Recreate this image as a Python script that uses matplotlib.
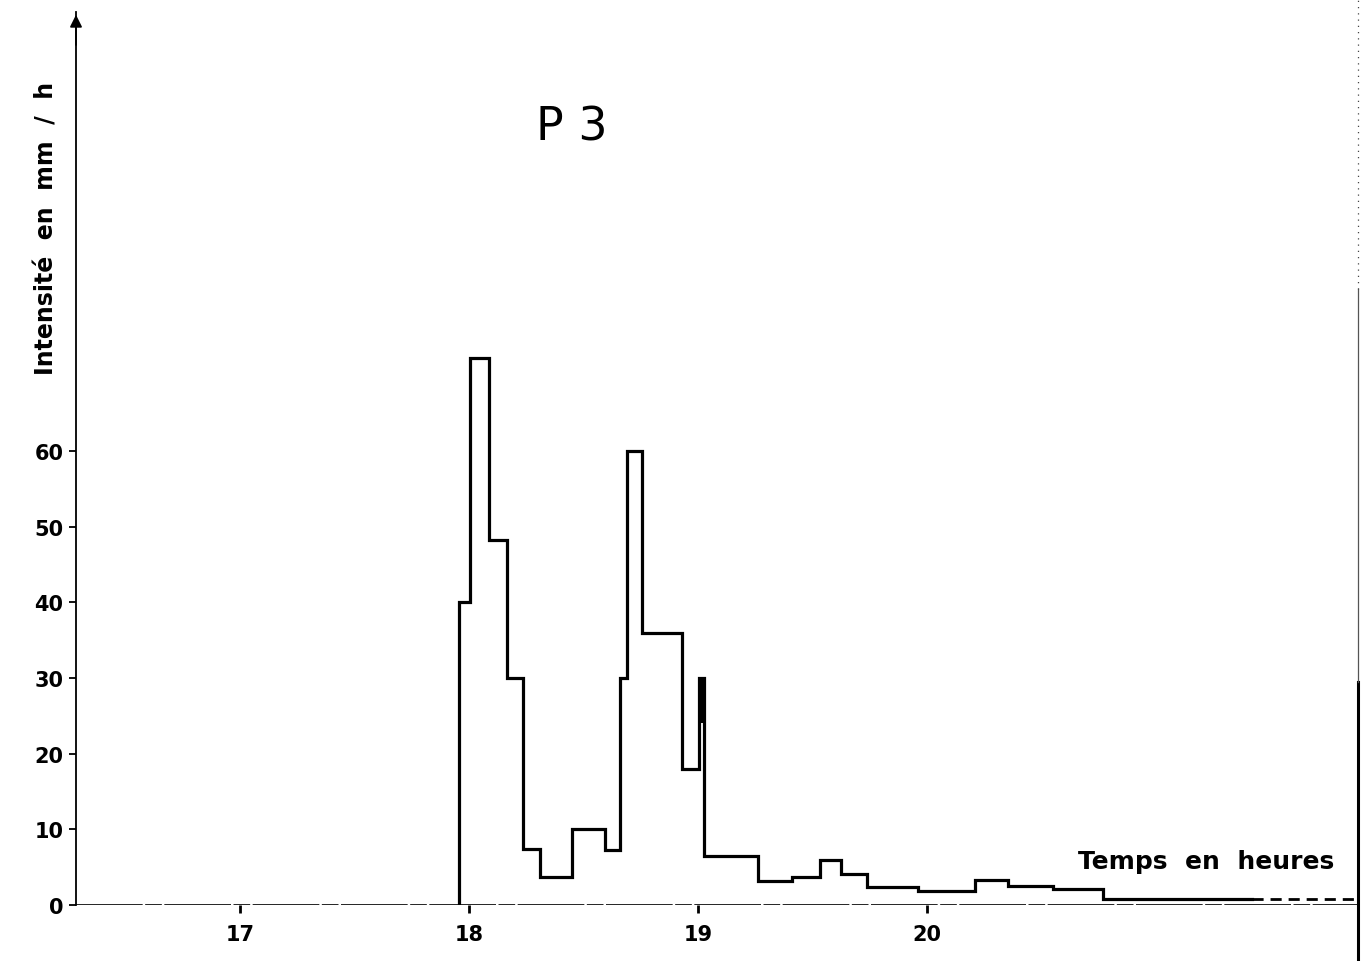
import numpy as np
import matplotlib
matplotlib.use("Agg")
import matplotlib.pyplot as plt
from matplotlib.lines import Line2D

# bornes des paliers (heures décimales) et intensités (mm/h)
EDGES = [17.955, 18.005, 18.09, 18.167, 18.237, 18.31, 18.449, 18.594,
         18.662, 18.69, 18.754, 18.929, 19.004, 19.028, 19.263, 19.409,
         19.533, 19.623, 19.737, 19.959, 20.21, 20.355, 20.549, 20.77,
         21.418]
INTENSITY = [40, 72.3, 48.2, 30, 7.4, 3.7, 10, 7.3, 30, 60, 36, 18, 30,
             6.5, 3.2, 3.7, 5.9, 4.1, 2.4, 1.9, 3.3, 2.5, 2.1, 0.8]
DASH_END = 21.876  # prolongement en tirets

XTICKS = [17, 18, 19, 20]
YTICKS = [0, 10, 20, 30, 40, 50, 60]
XLIM = (16.285, 21.882)
YLIM = (0, 118.0)

plt.rcParams["font.family"] = ["DejaVu Sans"]

fig = plt.figure(figsize=(13.64, 9.62), dpi=100)
ax = fig.add_axes([76 / 1364, 56 / 962, (1358 - 76) / 1364, (906 - 13) / 962])
ax.set_xlim(*XLIM)
ax.set_ylim(*YLIM)

# hyétogramme
xs = np.r_[EDGES[0], EDGES]
ys = np.r_[0, INTENSITY, INTENSITY[-1]]
ax.step(xs, ys, where="post", color="black", lw=2.3, solid_joinstyle="miter")
ax.plot([EDGES[-1], DASH_END], [INTENSITY[-1], INTENSITY[-1]],
        color="black", lw=2.0, linestyle=(0, (4, 2.5)))

# pointe très courte vers 19 h : noircie sur l'original
widths = np.diff(EDGES)
for i in range(1, len(INTENSITY) - 1):
    if widths[i] < 0.03 and INTENSITY[i] > max(INTENSITY[i - 1], INTENSITY[i + 1]):
        lo = max(INTENSITY[i - 1], INTENSITY[i + 1])
        ax.fill_between([EDGES[i], EDGES[i + 1]], lo + 0.5 * (INTENSITY[i] - lo),
                        INTENSITY[i], color="black", lw=0)

# axes
for s in ["top", "right", "bottom"]:
    ax.spines[s].set_visible(False)
ax.spines["left"].set_linewidth(1.3)
ax.axhline(0, color="black", lw=1.2, linestyle=(0, (40, 1.5, 10, 1.5)))
ax.annotate("", xy=(0, 1.0), xytext=(0, 0.96), xycoords="axes fraction",
            arrowprops=dict(arrowstyle="-|>", color="black", lw=1.3,
                            mutation_scale=18))

# bord droit du scan
fig.add_artist(Line2D([1358 / 1364] * 2, [0, (962 - 683) / 962], color="black", lw=2.2))
fig.add_artist(Line2D([1358 / 1364] * 2, [(962 - 683) / 962, (962 - 290) / 962],
                      color="#555555", lw=0.9))
fig.add_artist(Line2D([1358 / 1364] * 2, [(962 - 290) / 962, 1.0],
                      color="#444444", lw=0.9, linestyle=(0, (1, 4))))

ax.set_xticks(XTICKS)
ax.set_yticks(YTICKS)
ax.tick_params(axis="x", direction="out", length=6, width=2, pad=8,
               labelsize=15)
ax.tick_params(axis="y", direction="out", length=5, width=1.3, pad=4,
               labelsize=15)
for lab in ax.get_xticklabels() + ax.get_yticklabels():
    lab.set_fontweight("bold")

fig.text(47 / 1364, 1 - 228 / 962, "Intensité  en  mm  /  h", rotation=90,
         ha="center", va="center", fontsize=17, fontweight="bold")
ax.text(20.66, 5.8, "Temps  en  heures", fontsize=18, fontweight="bold",
        ha="left", va="center")
fig.text(572 / 1364, 1 - 128 / 962, "P 3", fontsize=33, ha="center",
         va="center")

fig.savefig("out.png", dpi=100)
